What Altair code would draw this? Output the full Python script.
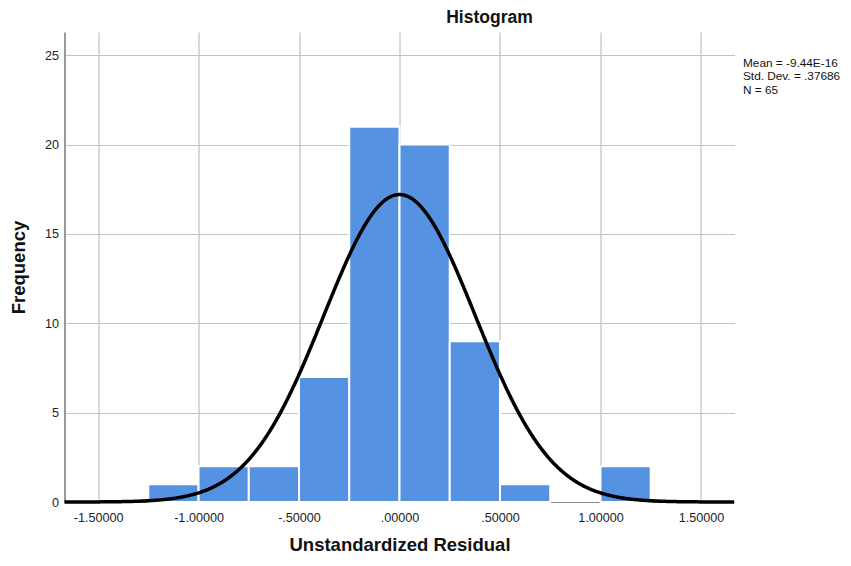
import altair as alt
import pandas as pd

# ---- data ----
bin_start = [-1.25, -1.00, -0.75, -0.50, -0.25, 0.00, 0.25, 0.50, 0.75, 1.00]
bin_end = [-1.00, -0.75, -0.50, -0.25, 0.00, 0.25, 0.50, 0.75, 1.00, 1.25]
counts = [1, 2, 2, 7, 21, 20, 9, 1, 0, 2]

mean_val = -9.44e-16
sd_val = 0.37686
n_val = 65
bin_width = 0.25

x_ticks = [-1.5, -1.0, -0.5, 0.0, 0.5, 1.0, 1.5]
y_ticks = [0, 5, 10, 15, 20, 25]
stats_lines = ["Mean = -9.44E-16", "Std. Dev. = .37686", "N = 65"]

x_domain = [-1.667, 1.667]
y_domain = [0, 26.3]

FONT = "Liberation Sans"
BAR_COLOR = "#5592e2"

bars_df = pd.DataFrame({"start": bin_start, "end": bin_end, "count": counts})
bars_df = bars_df[bars_df["count"] > 0].copy()
bars_df["base"] = 0

x_scale = alt.Scale(domain=x_domain, nice=False, zero=False)
y_scale = alt.Scale(domain=y_domain, nice=False)

x_axis = alt.Axis(
    values=x_ticks,
    labelExpr="datum.value == 0 ? '.00000' : (datum.value < 0 ? '-' : '') + replace(format(abs(datum.value), '.5f'), /^0/, '')",
    title="Unstandardized Residual",
    grid=True,
    gridColor="#b4b4b4",
    gridWidth=1,
    domain=True,
    domainColor="#888888",
    ticks=False,
    labelFontSize=12.6,
    labelColor="#222222",
    labelPadding=9,
    labelFont=FONT,
    titleFont=FONT,
    titleFontSize=18.5,
    titleFontWeight="bold",
    titleColor="#111111",
    titlePadding=12,
)
y_axis = alt.Axis(
    values=y_ticks,
    title="Frequency",
    grid=True,
    gridColor="#c4c4c4",
    gridWidth=1,
    domain=True,
    domainColor="#777777",
    domainWidth=1.5,
    ticks=False,
    labelFontSize=12.6,
    labelColor="#222222",
    labelPadding=6,
    labelFont=FONT,
    titleFont=FONT,
    titleFontSize=18.5,
    titleFontWeight="bold",
    titleColor="#111111",
    titlePadding=16,
)

bars = alt.Chart(bars_df).mark_bar(
    color=BAR_COLOR, stroke="white", strokeWidth=2
).encode(
    x=alt.X("start:Q", scale=x_scale, axis=x_axis),
    x2="end:Q",
    y=alt.Y("count:Q", scale=y_scale, axis=y_axis),
    y2="base:Q",
)

curve = alt.Chart(alt.sequence(start=x_domain[0], stop=x_domain[1], step=0.004, as_="x")).transform_calculate(
    y=f"{n_val} * {bin_width} / ({sd_val} * sqrt(2 * PI)) * exp(-0.5 * pow((datum.x - ({mean_val})) / {sd_val}, 2))"
).mark_line(color="black", strokeWidth=3.5).encode(
    x=alt.X("x:Q", scale=x_scale),
    y=alt.Y("y:Q", scale=y_scale),
)

stats = alt.Chart(pd.DataFrame({"t": ["\n".join(stats_lines)]})).mark_text(
    align="left", baseline="top", fontSize=11.8, font=FONT, color="#111111",
    lineBreak="\n", lineHeight=13.3,
).encode(
    x=alt.value(678.5),
    y=alt.value(26),
    text="t:N",
)

chart = alt.layer(bars, curve, stats).properties(
    width=670,
    height=470,
    title=alt.TitleParams(
        "Histogram", anchor="middle", dx=90, fontSize=17.5, fontWeight="bold",
        font=FONT, color="#111111", offset=6,
    ),
    autosize=alt.AutoSizeParams(type="none"),
    padding={"left": 56.5, "top": 24, "right": 106.5, "bottom": 52},
).configure(
    font=FONT,
).configure_view(
    stroke="transparent", strokeWidth=0
)

chart.save("out.html", embed_options={"renderer": "svg", "actions": False})
